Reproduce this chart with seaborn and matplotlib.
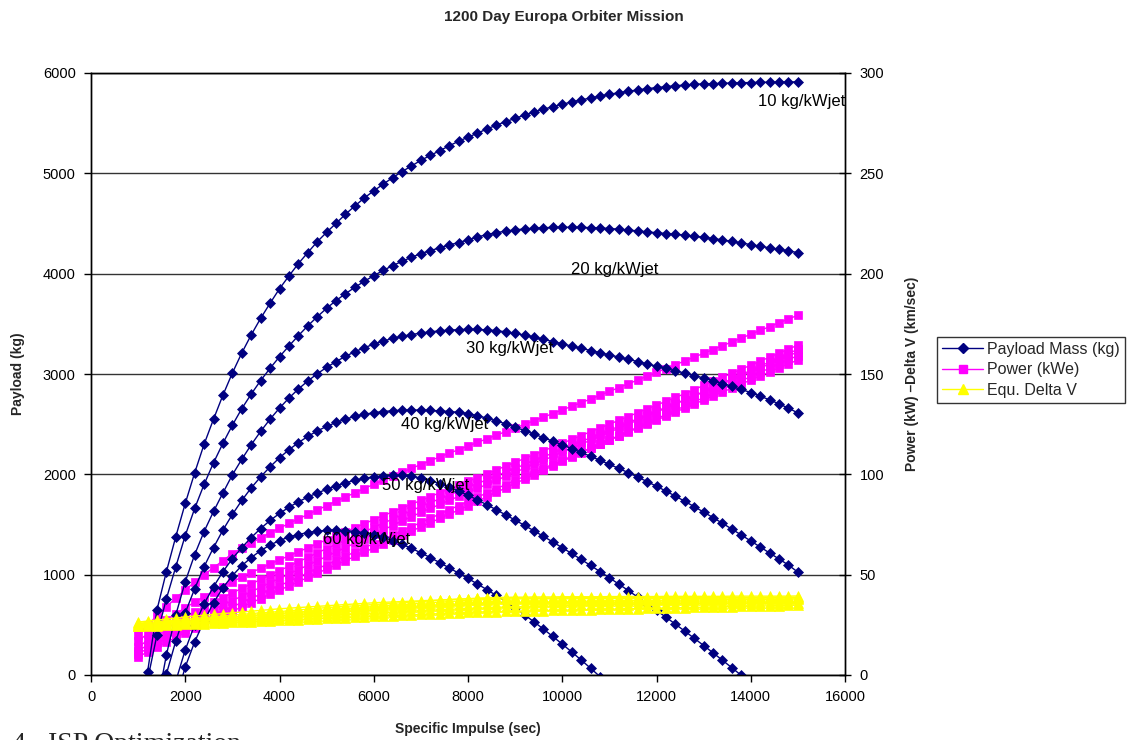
import numpy as np
import pandas as pd
import seaborn as sns
import matplotlib
matplotlib.use("Agg")
import matplotlib.pyplot as plt
from matplotlib.lines import Line2D

# specific impulse grid (sec), one point every 200 s
isp = list(range(1000, 15001, 200))

# payload mass (kg) for each power-system specific mass
payload_10 = [-700, 30, 650, 1030, 1380, 1710, 2015, 2300, 2550, 2790,
              3010, 3210, 3390, 3555, 3705, 3850, 3977, 4100, 4210, 4318,
              4412, 4502, 4592, 4675, 4755, 4825, 4892, 4957, 5017, 5073,
              5130, 5178, 5226, 5274, 5320, 5360, 5400, 5442, 5480, 5515,
              5548, 5580, 5612, 5638, 5664, 5688, 5711, 5731, 5751, 5770,
              5788, 5803, 5818, 5831, 5844, 5854, 5864, 5873, 5880, 5887,
              5891, 5894, 5897, 5900, 5903, 5905, 5907, 5908, 5909, 5910,
              5912]
payload_20 = [-600, -50, 400, 760, 1080, 1390, 1660, 1900, 2115, 2310,
              2490, 2655, 2800, 2935, 3057, 3172, 3279, 3382, 3480, 3570,
              3655, 3732, 3800, 3864, 3924, 3980, 4032, 4080, 4123, 4163,
              4200, 4229, 4258, 4286, 4310, 4336, 4365, 4390, 4408, 4424,
              4436, 4446, 4452, 4458, 4461, 4462, 4462, 4461, 4459, 4455,
              4450, 4443, 4435, 4426, 4417, 4408, 4400, 4393, 4385, 4374,
              4362, 4350, 4336, 4322, 4305, 4290, 4273, 4257, 4243, 4226,
              4210]
payload_30 = [-1900, -950, -300, 200, 600, 930, 1200, 1430, 1630, 1815,
              1995, 2150, 2295, 2428, 2550, 2660, 2760, 2850, 2930, 3002,
              3066, 3124, 3176, 3222, 3262, 3297, 3328, 3354, 3375, 3393,
              3408, 3420, 3430, 3437, 3442, 3445, 3444, 3440, 3432, 3420,
              3405, 3388, 3368, 3346, 3323, 3300, 3278, 3256, 3234, 3212,
              3190, 3168, 3146, 3124, 3100, 3078, 3055, 3032, 3008, 2984,
              2960, 2933, 2905, 2876, 2846, 2815, 2780, 2742, 2702, 2660,
              2612]
payload_40 = [-1800, -1000, -400, 10, 340, 620, 860, 1080, 1270, 1445,
              1600, 1740, 1865, 1975, 2075, 2165, 2245, 2315, 2378, 2432,
              2478, 2517, 2550, 2577, 2598, 2614, 2626, 2634, 2639, 2641,
              2640, 2637, 2632, 2626, 2618, 2605, 2584, 2560, 2533, 2503,
              2470, 2436, 2401, 2366, 2330, 2294, 2257, 2219, 2180, 2140,
              2100, 2059, 2017, 1973, 1928, 1881, 1833, 1783, 1731, 1678,
              1624, 1569, 1512, 1454, 1395, 1336, 1276, 1216, 1156, 1096,
              1025]
payload_50 = [-2500, -1600, -950, -450, -60, 250, 500, 710, 880, 1030,
              1160, 1270, 1370, 1460, 1540, 1610, 1672, 1726, 1773, 1814,
              1850, 1885, 1915, 1940, 1960, 1975, 1985, 1990, 1989, 1982,
              1962, 1938, 1908, 1873, 1834, 1791, 1745, 1697, 1647, 1596,
              1544, 1491, 1437, 1382, 1326, 1269, 1211, 1152, 1092, 1031,
              969, 906, 842, 777, 711, 644, 576, 507, 437, 366,
              294, 221, 147, 72, -4, -81, -159, -238, -318, -399,
              -481]
payload_60 = [-2800, -1900, -1200, -650, -250, 80, 330, 540, 720, 870,
              990, 1090, 1170, 1240, 1295, 1340, 1375, 1400, 1420, 1433,
              1441, 1445, 1440, 1430, 1417, 1400, 1372, 1340, 1303, 1262,
              1218, 1170, 1120, 1068, 1015, 962, 907, 851, 793, 732,
              668, 600, 530, 458, 384, 308, 230, 150, 68, -16,
              -102, -190, -280, -372, -466, -562, -660, -760, -862, -966,
              -1072, -1180, -1290, -1402, -1516, -1632, -1750, -1870, -1992, -2116,
              -2242]

# power (kWe), secondary axis
power_a = [20.0, 25.0, 29.5, 34.0, 38.3, 42.4, 46.3, 50.0, 53.5, 57.0,
           60.5, 63.2, 65.8, 68.3, 70.8, 73.2, 75.5, 77.8, 80.0, 82.2,
           84.4, 86.6, 88.7, 90.8, 92.9, 95.0, 97.0, 99.0, 101.0, 103.0,
           104.9, 106.8, 108.7, 110.5, 112.3, 114.1, 115.9, 117.7, 119.5, 121.3,
           123.1, 124.9, 126.7, 128.5, 130.3, 132.1, 133.9, 135.7, 137.5, 139.4,
           141.3, 143.2, 145.1, 147.0, 148.9, 150.8, 152.7, 154.6, 156.5, 158.4,
           160.3, 162.2, 164.1, 166.0, 167.9, 169.8, 171.7, 173.6, 175.5, 177.4,
           179.3]
power_b = [17.0, 20.5, 24.0, 27.3, 30.5, 33.5, 36.3, 39.0, 41.6, 44.1,
           46.5, 48.8, 51.0, 53.2, 55.3, 57.4, 59.4, 61.4, 63.4, 65.4,
           67.4, 69.4, 71.4, 73.4, 75.4, 77.4, 79.4, 81.3, 83.2, 85.1,
           87.0, 88.9, 90.8, 92.7, 94.6, 96.5, 98.4, 100.3, 102.2, 104.1,
           106.0, 107.9, 109.8, 111.7, 113.6, 115.5, 117.4, 119.3, 121.2, 123.1,
           125.0, 126.9, 128.8, 130.7, 132.6, 134.5, 136.4, 138.3, 140.2, 142.1,
           144.4, 146.4, 148.4, 150.4, 152.4, 154.4, 156.4, 158.4, 160.4, 162.4,
           164.4]
power_c = [9.0, 11.5, 14.0, 16.4, 18.7, 21.0, 23.2, 25.4, 27.6, 29.7,
           31.8, 33.9, 36.0, 38.1, 40.2, 42.3, 44.4, 46.5, 48.6, 50.7,
           52.8, 54.9, 57.0, 59.1, 61.2, 63.3, 65.4, 67.5, 69.6, 71.7,
           73.8, 75.9, 78.0, 80.1, 82.2, 84.4, 86.6, 88.8, 91.0, 93.2,
           95.4, 97.6, 99.8, 102.0, 104.2, 106.4, 108.6, 110.8, 113.0, 115.2,
           117.2, 119.3, 121.4, 123.5, 125.6, 127.7, 129.8, 131.9, 134.0, 136.1,
           138.2, 140.3, 142.4, 144.5, 146.6, 148.7, 150.8, 152.9, 155.0, 157.1,
           159.2]
power_d = [14.0, 17.2, 20.3, 23.2, 26.0, 28.7, 31.3, 33.8, 36.2, 38.6,
           40.9, 43.2, 45.4, 47.6, 49.8, 52.0, 54.2, 56.4, 58.6, 60.8,
           63.0, 65.1, 67.2, 69.3, 71.4, 73.5, 75.6, 77.7, 79.8, 81.9,
           84.0, 85.9, 87.8, 89.7, 91.6, 93.5, 95.4, 97.3, 99.2, 101.1,
           103.0, 104.9, 106.8, 108.7, 110.6, 112.5, 114.4, 116.3, 118.2, 120.1,
           122.0, 123.9, 125.8, 127.7, 129.6, 131.5, 133.4, 135.3, 137.2, 139.1,
           141.3, 143.4, 145.5, 147.6, 149.7, 151.8, 153.9, 156.0, 158.1, 160.2,
           162.3]
power_e = [12.0, 14.9, 17.7, 20.4, 23.0, 25.5, 27.9, 30.3, 32.6, 34.9,
           37.1, 39.3, 41.5, 43.7, 45.9, 48.1, 50.3, 52.5, 54.7, 56.9,
           59.1, 61.3, 63.5, 65.7, 67.9, 70.1, 72.3, 74.5, 76.7, 78.9,
           81.0, 83.0, 85.0, 87.0, 89.0, 91.0, 93.0, 95.0, 97.0, 99.0,
           101.0, 103.0, 105.0, 107.0, 109.0, 111.0, 113.0, 115.0, 117.0, 119.0,
           121.0, 123.0, 125.0, 127.0, 129.0, 131.0, 133.0, 135.0, 137.0, 139.0,
           141.0, 143.0, 145.0, 147.0, 149.0, 151.0, 153.0, 155.0, 157.0, 159.0,
           161.0]
power_f = [10.5, 13.2, 15.8, 18.3, 20.7, 23.0, 25.3, 27.5, 29.7, 31.9,
           34.0, 36.1, 38.2, 40.3, 42.4, 44.5, 46.6, 48.7, 50.8, 52.9,
           55.0, 57.1, 59.2, 61.3, 63.4, 65.5, 67.6, 69.7, 71.8, 73.9,
           76.0, 78.1, 80.2, 82.3, 84.4, 86.5, 88.6, 90.7, 92.8, 94.9,
           97.0, 99.0, 101.0, 103.0, 105.0, 107.0, 109.0, 111.0, 113.0, 115.0,
           117.0, 119.0, 121.0, 123.0, 125.0, 127.0, 129.0, 131.0, 133.0, 135.0,
           137.0, 139.0, 141.0, 143.0, 145.0, 147.0, 149.0, 151.0, 153.0, 155.0,
           157.0]

# equivalent delta V (km/sec), secondary axis
dv_a = [26.4, 26.9, 27.4, 27.9, 28.4, 28.9, 29.4, 29.8, 30.2, 30.6,
        31.0, 31.4, 31.8, 32.2, 32.6, 33.0, 33.3, 33.6, 33.9, 34.2,
        34.5, 34.8, 35.1, 35.4, 35.7, 36.0, 36.2, 36.4, 36.6, 36.8,
        37.0, 37.2, 37.4, 37.6, 37.8, 38.0, 38.2, 38.4, 38.6, 38.7,
        38.8, 38.8, 38.9, 38.9, 38.9, 39.0, 39.0, 39.0, 39.0, 39.0,
        39.1, 39.1, 39.1, 39.1, 39.1, 39.1, 39.2, 39.2, 39.2, 39.2,
        39.2, 39.2, 39.2, 39.3, 39.3, 39.3, 39.3, 39.3, 39.3, 39.3,
        39.4]
dv_b = [25.8, 26.2, 26.6, 27.0, 27.4, 27.8, 28.2, 28.6, 29.0, 29.4,
        29.8, 30.2, 30.6, 31.0, 31.3, 31.6, 32.0, 32.4, 32.8, 33.2,
        33.6, 33.9, 34.2, 34.5, 34.8, 35.1, 35.4, 35.7, 36.0, 36.3,
        36.6, 36.9, 37.2, 37.5, 37.8, 38.0, 38.2, 38.3, 38.4, 38.4,
        38.4, 38.4, 38.4, 38.4, 38.4, 38.5, 38.5, 38.5, 38.5, 38.5,
        38.5, 38.5, 38.5, 38.5, 38.5, 38.6, 38.6, 38.6, 38.6, 38.6,
        38.6, 38.6, 38.6, 38.6, 38.6, 38.6, 38.6, 38.7, 38.7, 38.7,
        38.7]
dv_c = [25.4, 25.75, 26.1, 26.45, 26.8, 27.15, 27.5, 27.85, 28.2, 28.55,
        28.9, 29.25, 29.6, 29.95, 30.3, 30.65, 31.0, 31.35, 31.7, 32.05,
        32.4, 32.75, 33.1, 33.45, 33.8, 34.15, 34.5, 34.8, 35.1, 35.4,
        35.7, 36.0, 36.3, 36.6, 36.9, 37.2, 37.4, 37.6, 37.8, 37.9,
        37.9, 38.0, 38.0, 38.0, 38.0, 38.0, 38.0, 38.1, 38.1, 38.1,
        38.1, 38.1, 38.1, 38.1, 38.2, 38.2, 38.2, 38.2, 38.2, 38.2,
        38.2, 38.2, 38.3, 38.3, 38.3, 38.3, 38.3, 38.3, 38.3, 38.3,
        38.3]
dv_d = [25.0, 25.3, 25.6, 25.9, 26.2, 26.5, 26.8, 27.1, 27.4, 27.7,
        28.0, 28.3, 28.6, 28.9, 29.2, 29.5, 29.8, 30.1, 30.4, 30.7,
        31.0, 31.3, 31.6, 31.9, 32.2, 32.5, 32.8, 33.1, 33.4, 33.7,
        34.0, 34.2, 34.4, 34.6, 34.8, 35.0, 35.2, 35.4, 35.6, 35.8,
        36.0, 36.1, 36.2, 36.3, 36.4, 36.5, 36.6, 36.7, 36.8, 36.9,
        37.0, 37.0, 37.1, 37.1, 37.2, 37.2, 37.3, 37.3, 37.4, 37.4,
        37.5, 37.5, 37.5, 37.6, 37.6, 37.6, 37.7, 37.7, 37.7, 37.8,
        37.8]
dv_e = [24.6, 24.85, 25.1, 25.35, 25.6, 25.85, 26.1, 26.35, 26.6, 26.85,
        27.1, 27.35, 27.6, 27.85, 28.1, 28.35, 28.6, 28.85, 29.1, 29.35,
        29.6, 29.85, 30.1, 30.35, 30.6, 30.85, 31.1, 31.35, 31.6, 31.85,
        32.1, 32.3, 32.5, 32.7, 32.9, 33.1, 33.3, 33.5, 33.7, 33.9,
        34.0, 34.1, 34.2, 34.3, 34.4, 34.5, 34.6, 34.7, 34.8, 34.9,
        35.0, 35.05, 35.1, 35.15, 35.2, 35.25, 35.3, 35.35, 35.4, 35.45,
        35.5, 35.55, 35.6, 35.65, 35.7, 35.75, 35.8, 35.85, 35.9, 35.95,
        36.0]
dv_f = [24.2, 24.4, 24.6, 24.8, 25.0, 25.2, 25.4, 25.6, 25.8, 26.0,
        26.2, 26.4, 26.6, 26.8, 27.0, 27.2, 27.4, 27.6, 27.8, 28.0,
        28.2, 28.4, 28.6, 28.8, 29.0, 29.2, 29.4, 29.6, 29.8, 30.0,
        30.2, 30.4, 30.6, 30.8, 31.0, 31.2, 31.4, 31.5, 31.6, 31.7,
        31.8, 31.9, 32.0, 32.1, 32.2, 32.3, 32.4, 32.5, 32.6, 32.7,
        32.8, 32.9, 33.0, 33.1, 33.2, 33.3, 33.4, 33.5, 33.6, 33.7,
        33.8, 33.9, 34.0, 34.1, 34.2, 34.3, 34.4, 34.5, 34.6, 34.7,
        34.8]

curve_labels = ["10 kg/kWjet", "20 kg/kWjet", "30 kg/kWjet",
                "40 kg/kWjet", "50 kg/kWjet", "60 kg/kWjet"]
# label anchor points (isp, payload)
label_isp = [15080, 11118, 8884, 7497, 7100, 5856]
label_payload = [5714, 4037, 3256, 2492, 1884, 1346]


def to_long(series, col):
    frames = []
    for i, vals in enumerate(series):
        frames.append(pd.DataFrame({"isp": isp, col: vals, "curve": i}))
    return pd.concat(frames, ignore_index=True)


payload_df = to_long([payload_10, payload_20, payload_30, payload_40, payload_50, payload_60], "payload")
power_df = to_long([power_a, power_b, power_c, power_d, power_e, power_f], "power")
dv_df = to_long([dv_a, dv_b, dv_c, dv_d, dv_e, dv_f], "dv")

sns.set_style("white")
plt.rcParams["font.family"] = ["Liberation Sans", "DejaVu Sans"]
plt.rcParams["font.size"] = 10

navy = "#000080"
magenta = "#FF00FF"
yellow = "#FFFF00"

fig = plt.figure(figsize=(11.28, 7.40), dpi=100)
ax = fig.add_axes([91 / 1128, 65 / 740, 754 / 1128, 602 / 740])
ax2 = ax.twinx()   # power / delta V scale (right)
ax3 = ax.twinx()   # delta V drawn on top of everything, same scale as ax2

# stacking: power squares at the back, payload diamonds over them, delta V on top
ax2.set_zorder(1)
ax.set_zorder(2)
ax3.set_zorder(3)
ax.patch.set_visible(False)
ax3.patch.set_visible(False)
ax2.patch.set_visible(True)
ax2.patch.set_facecolor("white")

sns.lineplot(data=power_df, x="isp", y="power", units="curve", estimator=None,
             color=magenta, marker="s", markersize=6, markeredgecolor=magenta,
             markeredgewidth=0.5, linewidth=1.0, ax=ax2, legend=False)
sns.lineplot(data=payload_df, x="isp", y="payload", units="curve", estimator=None,
             color=navy, marker="D", markersize=5.5, markeredgecolor=navy,
             markeredgewidth=0.5, linewidth=1.0, ax=ax, legend=False)
sns.lineplot(data=dv_df, x="isp", y="dv", units="curve", estimator=None,
             color=yellow, marker="^", markersize=6.5, markeredgecolor=yellow,
             markeredgewidth=0.5, linewidth=1.0, ax=ax3, legend=False)

ax.set_xlim(0, 16000)
ax.set_ylim(0, 6000)
ax2.set_ylim(0, 300)
ax3.set_ylim(0, 300)
ax.set_xticks(range(0, 16001, 2000))
ax.set_yticks(range(0, 6001, 1000))
ax2.set_yticks(range(0, 301, 50))
ax.grid(False)
ax2.grid(axis="y", color="#333333", linewidth=1.0)
ax2.grid(axis="x", visible=False)
ax2.set_axisbelow(True)
ax3.set_axis_off()

for a in (ax, ax2):
    for s in a.spines.values():
        s.set_visible(True)
        s.set_color("black")
        s.set_linewidth(1.0)

ax.tick_params(axis="both", which="major", bottom=True, left=True, direction="out",
               length=5, width=1, color="black", labelsize=10.5, labelcolor="black", pad=6)
ax2.tick_params(axis="y", right=True, direction="inout", length=9, width=1,
                color="black", labelsize=10.5, labelcolor="black", pad=6)

ax.set_xlabel("Specific Impulse (sec)", fontsize=10, fontweight="bold")
ax.set_ylabel("Payload (kg)", fontsize=10, fontweight="bold")
ax2.set_ylabel("Power (kW) \u2013Delta V (km/sec)", fontsize=10, fontweight="bold")
ax.xaxis.set_label_coords(0.5, -0.078)
ax.yaxis.set_label_coords(-0.0875, 0.5)
ax2.yaxis.set_label_coords(1.0796, 0.5)

for lab, lx, ly in zip(curve_labels, label_isp, label_payload):
    ax3.text(lx, ly, lab, transform=ax.transData, ha="center", va="center",
             fontsize=12, color="black", zorder=10, clip_on=False)

fig.text(0.5, 1 - 17 / 740, "1200 Day Europa Orbiter Mission", ha="center", va="center",
         fontsize=11, fontweight="bold")

handles = [
    Line2D([], [], color=navy, marker="D", markersize=5.5, markeredgecolor=navy, linewidth=1),
    Line2D([], [], color=magenta, marker="s", markersize=6, markeredgecolor=magenta, linewidth=1),
    Line2D([], [], color=yellow, marker="^", markersize=6.5, markeredgecolor=yellow, linewidth=1),
]
leg = fig.legend(handles, ["Payload Mass (kg)", "Power (kWe)", "Equ. Delta V"],
                 loc="upper left", bbox_to_anchor=(937 / 1128, 1 - 337 / 740),
                 frameon=True, fancybox=False, fontsize=11.5, handlelength=2.6,
                 handletextpad=0.25, labelspacing=0.35, borderpad=0.3, borderaxespad=0)
leg.get_frame().set_edgecolor("black")
leg.get_frame().set_linewidth(1.0)

# figure caption below the chart, cut off by the bottom edge as in the source
serif = ["Liberation Serif", "DejaVu Serif"]
fig.text(12 / 1128, 1 - 732 / 740, "4", ha="left", va="top", fontsize=20, family=serif)
fig.text(48 / 1128, 1 - 732 / 740, "ISP Optimization", ha="left", va="top", fontsize=20, family=serif)

fig.savefig("out.png", dpi=100)
